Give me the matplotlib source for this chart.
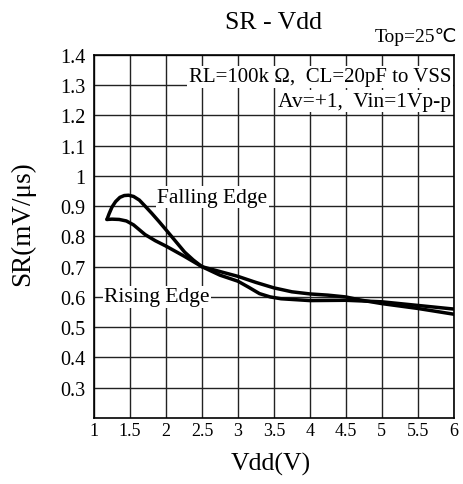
import matplotlib

matplotlib.use("Agg")
import matplotlib.pyplot as plt

# values
falling_x = [1.18, 1.21, 1.25, 1.30, 1.36, 1.42, 1.48, 1.55, 1.63, 1.71, 1.80, 1.90,
             2.00, 2.13, 2.26, 2.38, 2.50, 2.75, 3.00, 3.15, 3.30, 3.45, 3.60,
             4.00, 4.50, 5.00, 5.50, 6.00]
falling_y = [0.856, 0.875, 0.897, 0.915, 0.929, 0.935, 0.936, 0.932, 0.920, 0.900, 0.877, 0.850,
             0.822, 0.785, 0.748, 0.722, 0.700, 0.672, 0.652, 0.632, 0.611, 0.600, 0.594,
             0.588, 0.589, 0.584, 0.572, 0.560]

rising_x = [1.18, 1.25, 1.35, 1.45, 1.55, 1.63, 1.71, 1.85, 2.00, 2.25, 2.50,
            2.75, 3.00, 3.25, 3.50, 3.75, 4.00, 4.25, 4.50, 4.70, 5.00, 5.50, 6.00]
rising_y = [0.856, 0.857, 0.856, 0.851, 0.838, 0.822, 0.806, 0.786, 0.768, 0.735, 0.700,
            0.684, 0.668, 0.648, 0.630, 0.617, 0.610, 0.606, 0.600, 0.590, 0.578, 0.562, 0.543]

x_ticks = [1, 1.5, 2, 2.5, 3, 3.5, 4, 4.5, 5, 5.5, 6]
x_labels = ["1", "1.5", "2", "2.5", "3", "3.5", "4", "4.5", "5", "5.5", "6"]
y_ticks = [0.3, 0.4, 0.5, 0.6, 0.7, 0.8, 0.9, 1.0, 1.1, 1.2, 1.3, 1.4]
y_labels = ["0.3", "0.4", "0.5", "0.6", "0.7", "0.8", "0.9", "1", "1.1", "1.2", "1.3", "1.4"]

plt.rcParams["font.family"] = ["Liberation Serif", "DejaVu Sans"]

fig = plt.figure(figsize=(4.64, 4.85), dpi=100)
ax = fig.add_axes([0.2026, 0.136, 0.7754, 0.749])

ax.plot(falling_x, falling_y, color="black", lw=2.5, solid_joinstyle="round",
        solid_capstyle="round", zorder=3)
ax.plot(rising_x, rising_y, color="black", lw=2.5, solid_joinstyle="round",
        solid_capstyle="round", zorder=3)

ax.set_xlim(1, 6)
ax.set_ylim(0.2, 1.4)
ax.set_xticks(x_ticks)
ax.set_xticklabels(x_labels)
ax.set_yticks(y_ticks)
ax.set_yticklabels(y_labels)
ax.tick_params(length=0)
ax.tick_params(axis="x", pad=3, labelsize=13)
ax.tick_params(axis="y", pad=6, labelsize=14.5)
ax.grid(True, color="#222222", lw=1.0)
for s in ax.spines.values():
    s.set_linewidth(1.2)

ax.set_xlabel("Vdd(V)", fontsize=18.5)
ax.xaxis.set_label_coords(0.49, -0.092)
ax.set_ylabel("SR(mV/μs)", fontsize=19.5)
ax.yaxis.set_label_coords(-0.164, 0.537)
ax.set_title("SR - Vdd", fontsize=18.5, pad=19)

box = dict(facecolor="white", edgecolor="none", pad=1)
fig.text(0.985, 0.913, "Top=25℃", ha="right", va="baseline", fontsize=14)
ax.text(0.993, 0.939, "RL=100k Ω,  CL=20pF to VSS", transform=ax.transAxes,
        ha="right", va="center", fontsize=15, bbox=box, zorder=4)
ax.text(0.993, 0.872, "Av=+1,  Vin=1Vp-p", transform=ax.transAxes,
        ha="right", va="center", fontsize=15.5, bbox=box, zorder=4)
ax.text(1.88, 0.93, "Falling Edge", ha="left", va="center", fontsize=15.5,
        bbox=box, zorder=4)
ax.text(1.14, 0.60, "Rising Edge", ha="left", va="center", fontsize=15.5,
        bbox=box, zorder=4)

fig.savefig("out.png", dpi=100)
